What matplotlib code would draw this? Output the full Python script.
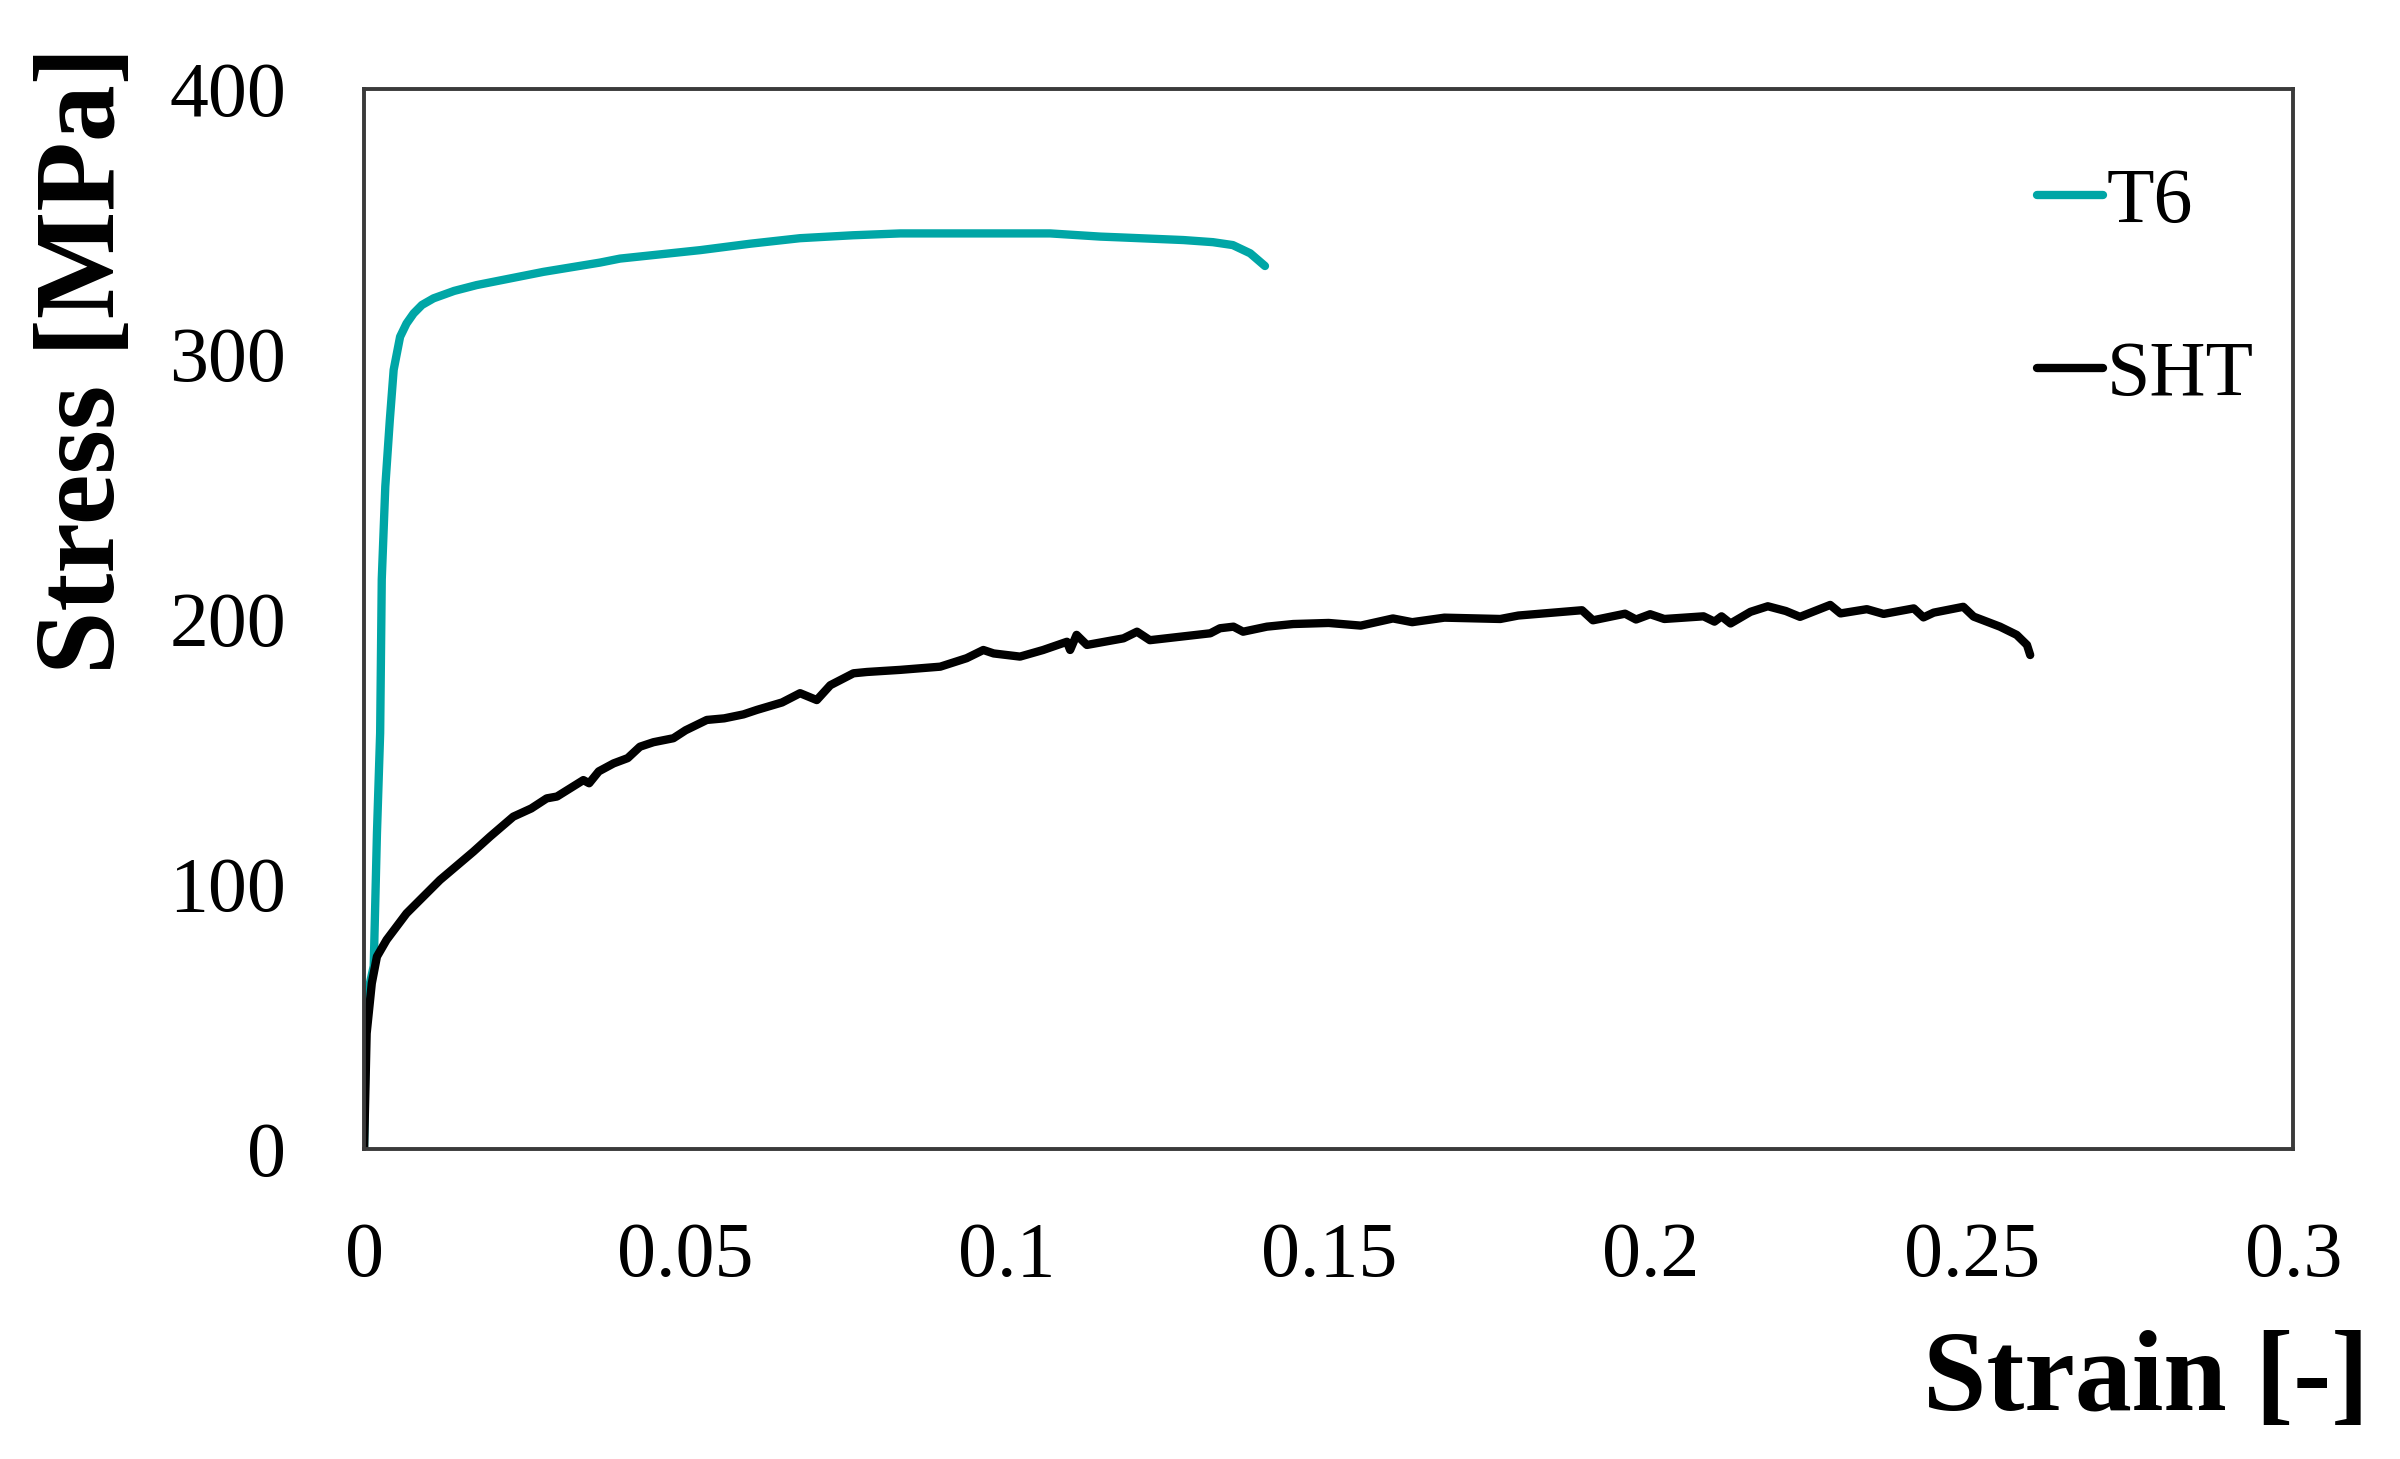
import numpy as np
import matplotlib
matplotlib.use('Agg')
import matplotlib.pyplot as plt

# Curvas tensao-deformacao
t6_strain = [0, 0.0003, 0.0015, 0.0020, 0.0025, 0.00275, 0.0033, 0.0040, 0.0046,
             0.0056, 0.0066, 0.0077, 0.0090, 0.0108, 0.0140, 0.0175, 0.0279,
             0.0367, 0.0398, 0.0523, 0.0600, 0.0678, 0.0760, 0.0834, 0.0989,
             0.1067, 0.1145, 0.1176, 0.1274, 0.1320, 0.1351, 0.1378, 0.1401]
t6_stress = [0, 56, 69, 119, 157, 215, 250, 275, 294,
             306.5, 311.5, 315.3, 318.5, 321, 323.8, 326, 331,
             334.5, 336, 339.2, 341.6, 343.7, 344.8, 345.5, 345.5,
             345.5, 344.3, 344, 343, 342.2, 341.1, 338, 333.2]

sht_strain = [0, 0.0004, 0.0012, 0.002, 0.0035, 0.0066, 0.0118, 0.017, 0.0196,
              0.0232, 0.026, 0.0284, 0.030, 0.0341, 0.035, 0.0365, 0.0388,
              0.041, 0.0429, 0.045, 0.0481, 0.050, 0.0533, 0.056, 0.059,
              0.0611, 0.065, 0.0678, 0.0704, 0.0725, 0.0761, 0.0782, 0.0834,
              0.0896, 0.0937, 0.0963, 0.0979, 0.102, 0.1056, 0.1093, 0.1098,
              0.1108, 0.1124, 0.1181, 0.1202, 0.1222, 0.1316, 0.1331, 0.1352,
              0.1367, 0.1404, 0.1445, 0.150, 0.155, 0.160, 0.163, 0.168,
              0.1767, 0.1795, 0.1894, 0.1911, 0.1961, 0.1978, 0.2000, 0.2022,
              0.2083, 0.2100, 0.2111, 0.2125, 0.2156, 0.2183, 0.2211, 0.2233,
              0.228, 0.2296, 0.2337, 0.2363, 0.241, 0.2425, 0.2441, 0.2487,
              0.2503, 0.2544, 0.257, 0.2586, 0.2591]
sht_stress = [0, 43.6, 62.5, 72.6, 78.9, 88.9, 101.5, 112.2, 117.9,
              125.4, 128.5, 132.3, 133.0, 139.2, 138.0, 142.5, 145.5,
              147.5, 151.8, 153.5, 155, 158, 161.9, 162.5, 164.0,
              165.7, 168.5, 172, 169.4, 175, 179.5, 180, 180.8,
              182, 185.2, 188.3, 187, 185.8, 188.3, 191.4, 188.3,
              194, 190.2, 192.7, 195.2, 192, 194.6, 196.5, 197.1,
              195.2, 197.1, 198.1, 198.5, 197.5, 200.2, 198.8, 200.5,
              200.0, 201.3, 203.3, 199.5, 202, 199.8, 201.8, 200,
              201, 199, 201, 198.3, 202.7, 204.8, 203, 200.8,
              205.3, 202.1, 203.7, 201.9, 204, 200.6, 202.4, 204.6,
              200.9, 197.1, 194, 190.2, 186.4]

x_ticks = [0, 0.05, 0.1, 0.15, 0.2, 0.25, 0.3]
x_labels = ['0', '0.05', '0.1', '0.15', '0.2', '0.25', '0.3']
y_ticks = [0, 100, 200, 300, 400]
y_labels = ['0', '100', '200', '300', '400']

plt.rcParams['font.family'] = ['Liberation Serif', 'DejaVu Serif']

fig = plt.figure(figsize=(12, 7.295), dpi=200)
ax = fig.add_axes([0.1517, 0.2125, 0.8038, 0.7265])

ax.plot(t6_strain, t6_stress, color='#00A6A6', lw=3.0, label='T6',
        solid_capstyle='round', solid_joinstyle='round')
ax.plot(sht_strain, sht_stress, color='black', lw=3.0, label='SHT',
        solid_capstyle='round', solid_joinstyle='round')

ax.set_xlim(0, 0.3)
ax.set_ylim(0, 400)
ax.set_xticks(x_ticks)
ax.set_xticklabels(x_labels)
ax.set_yticks(y_ticks)
ax.set_yticklabels(y_labels)
ax.tick_params(axis='both', length=0, labelsize=28)
ax.tick_params(axis='x', pad=26)
ax.tick_params(axis='y', pad=28)
for s in ax.spines.values():
    s.set_linewidth(1.4)
    s.set_color('#3a3a3a')

leg = ax.legend(loc='upper left', bbox_to_anchor=(0.867, 0.926), frameon=False,
                fontsize=28, handlelength=0.85, handletextpad=0.05,
                labelspacing=1.31, borderpad=0, borderaxespad=0)

fig.text(0.036, 0.9685, 'Stress [MPa]', rotation=90, ha='center', va='top',
         fontsize=41, fontweight='bold')
fig.text(0.9871, 0.0336, 'Strain [-]', ha='right', va='baseline',
         fontsize=41, fontweight='bold')

fig.savefig('out.png', dpi=200)
